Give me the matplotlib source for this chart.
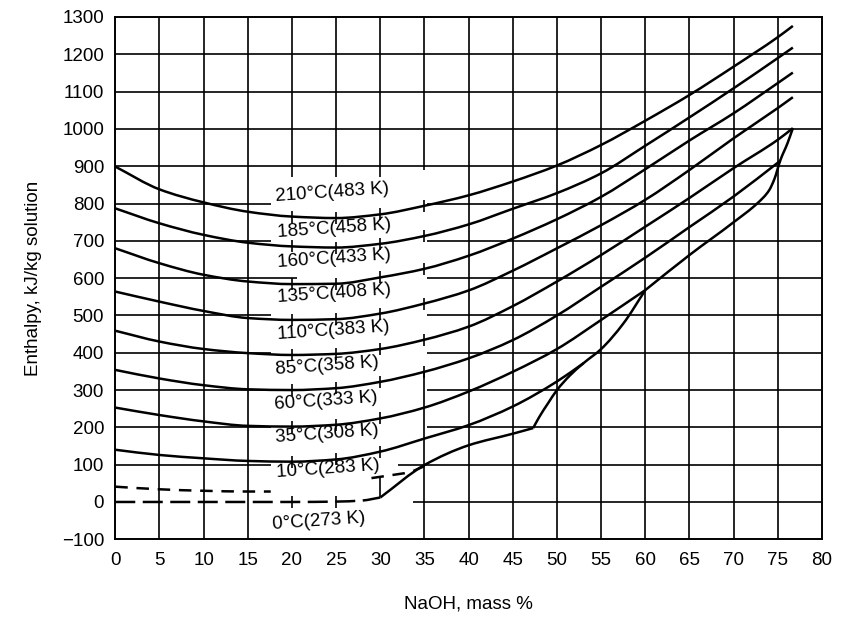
import numpy as np
import matplotlib
matplotlib.use("Agg")
import matplotlib.pyplot as plt
from matplotlib.path import Path
from matplotlib.patches import PathPatch

plt.rcParams['font.family'] = ['Liberation Sans', 'DejaVu Sans']

# enthalpy (kJ/kg solution) for each isotherm
x_210 = [0, 5, 10, 15, 20, 25, 30, 35, 40, 45, 50, 55, 60, 65, 70, 75, 76.7]
h_210 = [899, 838, 803, 778, 765, 761, 771, 794, 822, 859, 902, 957, 1022, 1091, 1167, 1246, 1276]

x_185 = [0, 5, 10, 15, 20, 25, 30, 35, 40, 45, 50, 55, 60, 65, 70, 75, 76.7]
h_185 = [787, 747, 716, 695, 685, 682, 692, 713, 744, 786, 828, 881, 955, 1031, 1109, 1190, 1218]

x_160 = [0, 5, 10, 15, 20, 25, 30, 35, 40, 45, 50, 55, 60, 65, 70, 75, 76.7]
h_160 = [680, 640, 609, 591, 584, 585, 602, 625, 660, 706, 758, 818, 892, 969, 1042, 1123, 1151]

x_135 = [0, 5, 10, 15, 20, 25, 30, 35, 40, 45, 50, 55, 60, 65, 70, 75, 76.7]
h_135 = [564, 537, 512, 493, 488, 490, 505, 532, 567, 620, 680, 742, 810, 890, 975, 1056, 1085]

x_110 = [0, 5, 10, 15, 20, 25, 30, 35, 40, 45, 50, 55, 60, 65, 70, 75, 76.7]
h_110 = [459, 430, 410, 399, 394, 397, 410, 435, 470, 525, 591, 662, 738, 815, 895, 971, 1002]

x_85 = [0, 5, 10, 15, 20, 25, 30, 35, 40, 45, 50, 55, 60, 65, 70, 75.3]
h_85 = [354, 331, 313, 302, 300, 305, 322, 349, 385, 434, 500, 577, 655, 737, 819, 915]

x_60 = [0, 5, 10, 15, 20, 25, 30, 35, 40, 45, 50, 55, 60]
h_60 = [253, 233, 216, 204, 202, 207, 224, 253, 296, 349, 410, 488, 568]

x_35 = [0, 5, 10, 15, 20, 25, 30, 35, 40, 45, 50, 53]
h_35 = [140, 126, 117, 110, 108, 114, 135, 170, 206, 256, 323, 372]

# 10 C isotherm is dashed and hidden behind its label in the middle
x_10a = [0, 5, 10, 15, 17.6]
h_10a = [41, 34, 30, 28, 28]
x_10b = [29, 31, 33.3, 35]
h_10b = [64, 71, 80, 96]

x_0 = [0, 5, 10, 15, 20, 25, 28, 30]
h_0 = [0, 0, 0, 0, 0, 1, 4, 12]

# solid-phase boundary, in three pieces between its corners
x_sat1 = [30, 35, 40, 45, 47.3]
h_sat1 = [12, 99, 152, 183, 198]
x_sat2 = [47.3, 48, 49, 50, 51.5, 53, 55, 57.5, 60]
h_sat2 = [198, 228, 265, 300, 340, 372, 410, 478, 568]
x_sat3 = [60, 65, 70, 72.7, 74, 74.6, 75.3, 76.1, 76.7]
h_sat3 = [568, 662, 750, 801, 835, 865, 917, 962, 1002]

solid_curves = [(x_210, h_210), (x_185, h_185), (x_160, h_160), (x_135, h_135),
                (x_110, h_110), (x_85, h_85), (x_60, h_60), (x_35, h_35)]

label_text = ["210°C(483 K)", "185°C(458 K)", "160°C(433 K)", "135°C(408 K)",
              "110°C(383 K)", "85°C(358 K)", "60°C(333 K)", "35°C(308 K)",
              "10°C(283 K)", "0°C(273 K)"]
label_x = [18.1, 18.4, 18.3, 18.3, 18.3, 18.1, 18.0, 18.1, 18.2, 17.8]
label_y = [818, 721, 641, 547, 448, 354, 260, 172, 78, -60]

xticks = list(range(0, 85, 5))
yticks = list(range(-100, 1400, 100))


def smooth_path(xs, ys):
    # cubic bezier through the read points, pchip-style slopes so no overshoot
    x = np.asarray(xs, float)
    y = np.asarray(ys, float)
    dx = np.diff(x)
    sec = np.diff(y) / dx
    m = np.empty_like(x)
    m[0], m[-1] = sec[0], sec[-1]
    for i in range(1, len(x) - 1):
        if sec[i - 1] * sec[i] <= 0:
            m[i] = 0.0
        else:
            w1 = 2 * dx[i] + dx[i - 1]
            w2 = dx[i] + 2 * dx[i - 1]
            m[i] = (w1 + w2) / (w1 / sec[i - 1] + w2 / sec[i])
    verts = [(x[0], y[0])]
    codes = [Path.MOVETO]
    for i in range(len(x) - 1):
        d = dx[i] / 3
        verts += [(x[i] + d, y[i] + m[i] * d), (x[i + 1] - d, y[i + 1] - m[i + 1] * d),
                  (x[i + 1], y[i + 1])]
        codes += [Path.CURVE4] * 3
    return Path(verts, codes)


def draw_curve(ax, xs, ys, **kw):
    ax.add_patch(PathPatch(smooth_path(xs, ys), fill=False, edgecolor='k',
                           lw=1.8, capstyle='butt', zorder=3, **kw))


fig = plt.figure(figsize=(8.45, 6.2), dpi=100)
ax = fig.add_axes([0.1364, 0.1302, 0.8364, 0.8424])
ax.set_xlim(0, 80)
ax.set_ylim(-100, 1300)

# grid, with the gaps left by the label block in the middle
v_gaps = {20: [(870, 1300)], 25: [(870, 1300)], 30: [(12, 64), (870, 1300)],
          35: [(-100, 346), (890, 1300)]}
h_gaps = {800: [(0, 17.6), (35.3, 80)], 700: [(0, 17.6), (35.3, 80)],
          600: [(0, 20.6), (35.3, 80)], 500: [(0, 17.6), (35.3, 80)],
          400: [(0, 17.6), (35.3, 80)], 300: [(0, 17.6), (35.3, 80)],
          200: [(0, 17.6), (35.3, 80)], 100: [(0, 17.6), (32, 80)],
          0: [(33.7, 80)]}
for xv in xticks[1:-1]:
    for lo, hi in v_gaps.get(xv, [(-100, 1300)]):
        ax.vlines(xv, lo, hi, color='k', lw=1.2, zorder=1)
for yv in yticks[1:-1]:
    for lo, hi in h_gaps.get(yv, [(0, 80)]):
        ax.hlines(yv, lo, hi, color='k', lw=1.2, zorder=1)

for xs, hs in solid_curves:
    draw_curve(ax, xs, hs)
    xs_a, hs_a = np.array(xs), np.array(hs)
    m = np.isin(xs_a, [20, 25, 30]) | ((xs_a == 35) & (hs_a > 346) & (hs_a < 890))
    ax.plot(xs_a[m], hs_a[m], ls='none', marker='|', ms=9, mew=1.2, color='k', zorder=3)

for xs, hs in [(x_sat1, h_sat1), (x_sat2, h_sat2), (x_sat3, h_sat3)]:
    draw_curve(ax, xs, hs)
draw_curve(ax, x_10a, h_10a, linestyle=(0, (5, 3.5)))
draw_curve(ax, x_10b, h_10b, linestyle=(0, (5, 3.5)))
draw_curve(ax, x_0, h_0, linestyle=(0, (8, 3)))
ax.plot([20, 25], [h_0[4], h_0[5]], ls='none', marker='|', ms=9, mew=1.2, color='k', zorder=3)

for t, lx, ly in zip(label_text, label_x, label_y):
    ax.text(lx, ly, t, fontsize=13.5, ha='left', va='center',
            rotation=4, rotation_mode='anchor', zorder=4)

ax.set_xticks(xticks)
ax.set_yticks(yticks)
ax.tick_params(length=0, labelsize=13.5)
ax.tick_params(axis='x', pad=9)
ax.tick_params(axis='y', pad=8)
for s in ax.spines.values():
    s.set_linewidth(1.4)

ax.set_xlabel("NaOH, mass %", fontsize=13.5, labelpad=19)
ax.set_ylabel("Enthalpy, kJ/kg solution", fontsize=13.5, labelpad=14)

fig.savefig("out.png", dpi=100)
